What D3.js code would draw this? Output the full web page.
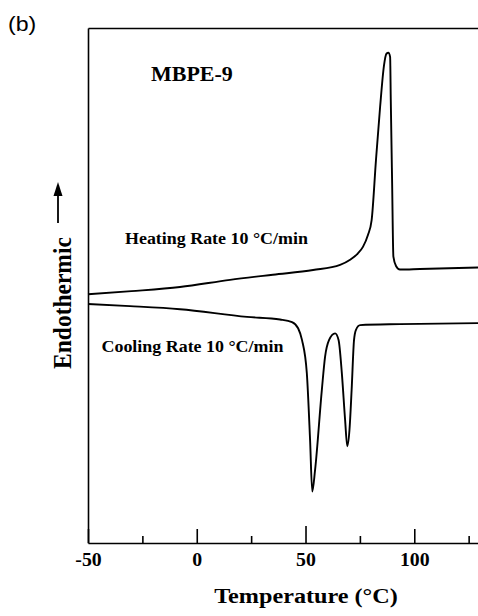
<!doctype html>
<html>
<head>
<meta charset='utf-8'>
<style>
  body { margin: 0; background: #fff; }
  svg { display: block; }
  .serif { font-family: 'Liberation Serif', 'Times New Roman', serif; font-weight: bold; }
</style>
</head>
<body>
<div id='chart'></div>
<script src='https://cdn.jsdelivr.net/npm/d3@7'></script>
<script>

// DSC traces (temperature in °C, heat flow in arbitrary units)
const heatT = [-50, -30, -7.7, 15.3, 35, 53.5, 65.9, 70.5, 74, 76.4, 78.7, 80.4, 82.4, 84.3, 86.1, 87.2, 88.1, 88.9, 89.2, 89.8, 90.4, 91.6, 93.4, 102.6, 129.3];
const heatV = [48.3, 48.9, 49.7, 51.1, 52.1, 53.0, 54.0, 55.0, 56.2, 57.5, 59.8, 62.7, 74.4, 84.7, 92.8, 95.0, 95.2, 94.4, 86.0, 70.5, 55.6, 53.8, 53.1, 53.2, 53.5];

const coolT = [-50, -30.7, -7.7, 23.1, 38.3, 43.8, 46.6, 48.4, 50.6, 52.1, 53.1, 54.4, 57.5, 59.0, 60.8, 63.6, 65.2, 66.7, 68.2, 69.2, 70.2, 71.2, 72.3, 73.2, 75.1, 93.4, 129.3];
const coolV = [46.4, 46.0, 45.4, 43.9, 43.4, 42.9, 41.7, 39.4, 33.0, 20.0, 10.0, 14.2, 29.7, 36.2, 39.4, 40.7, 39.4, 33.0, 23.9, 18.8, 21.9, 29.7, 39.4, 41.4, 42.3, 42.5, 42.7];

const xTicks = [-50, -25, 0, 25, 50, 75, 100, 125];
const xLabels = ['-50', '', '0', '', '50', '', '100', ''];

const W = 478, H = 616;
const margin = {t:28, r:0, b:73, l:88};
const sx = 1.1; // the scanned figure is stretched sideways a little

const x = d3.scaleLinear().domain([-50, 129.3]).range([margin.l, W - margin.r]);
const y = d3.scaleLinear().domain([0, 100]).range([H - margin.b, margin.t]);

const svg = d3.select('#chart')
  .append('svg')
  .attr('width', W)
  .attr('height', H);

// frame: bottom axis with ticks pointing up, plain left and top lines
const xAxis = d3.axisBottom(x)
  .tickValues(xTicks)
  .tickSize(-14)
  .tickSizeOuter(0)
  .tickPadding(10)
  .tickFormat((d, i) => xLabels[i]);

const gx = svg.append('g')
  .attr('transform', `translate(0, ${y(0)})`)
  .call(xAxis);
gx.selectAll('.tick line')
  .attr('y2', d => d % 50 === 0 ? (d === 50 ? -17 : -14) : -7)
  .attr('stroke-width', 1.6);
gx.selectAll('.tick text')
  .attr('class', 'serif')
  .style('font-size', '18px')
  .attr('fill', '#000')
  .attr('transform', `scale(${sx},1)`);

svg.append('g')
  .attr('transform', `translate(${x(-50)}, 0)`)
  .call(d3.axisLeft(y).tickValues([]).tickSizeOuter(0));
svg.append('g')
  .attr('transform', `translate(0, ${y(100)})`)
  .call(d3.axisTop(x).tickValues([]).tickSizeOuter(0));
svg.selectAll('.domain').attr('stroke-width', 1.6);

// traces
const line = d3.line()
  .x(d => x(d[0]))
  .y(d => y(d[1]))
  .curve(d3.curveMonotoneX);

svg.append('path')
  .datum(d3.zip(heatT, heatV))
  .attr('d', line)
  .attr('fill', 'none')
  .attr('stroke', '#000')
  .attr('stroke-width', 1.9);

svg.append('path')
  .datum(d3.zip(coolT, coolV))
  .attr('d', line)
  .attr('fill', 'none')
  .attr('stroke', '#000')
  .attr('stroke-width', 1.9);

// labels
function label(txt, px, py, size, anchor){
  return svg.append('text')
    .attr('class', 'serif')
    .attr('transform', `translate(${px}, ${py}) scale(${sx},1)`)
    .attr('text-anchor', anchor || 'start')
    .style('font-size', size + 'px')
    .text(txt);
}

label('MBPE-9', 151, 80.5, 20);
label('Heating Rate 10 \u00b0C/min', 125, 243.5, 16.3);
label('Cooling Rate 10 \u00b0C/min', 101.5, 351.5, 16.3);
label('Temperature (\u00b0C)', 306, 603, 22, 'middle');

svg.append('text')
  .attr('transform', `translate(8, 30.5) scale(${sx},1)`)
  .style('font-family', "'Liberation Sans', Arial, sans-serif")
  .style('font-size', '21px')
  .text('(b)');

// y label with arrow
svg.append('text')
  .attr('class', 'serif')
  .attr('transform', `translate(70.5, 303) scale(${sx},1) rotate(-90)`)
  .attr('text-anchor', 'middle')
  .style('font-size', '23.5px')
  .text('Endothermic');

svg.append('line')
  .attr('x1', 58).attr('x2', 58)
  .attr('y1', 194).attr('y2', 223)
  .attr('stroke', '#000')
  .attr('stroke-width', 1.8);
svg.append('path')
  .attr('d', 'M58,182 L53.5,196 L62.5,196 Z')
  .attr('fill', '#000');

</script>
</body>
</html>
